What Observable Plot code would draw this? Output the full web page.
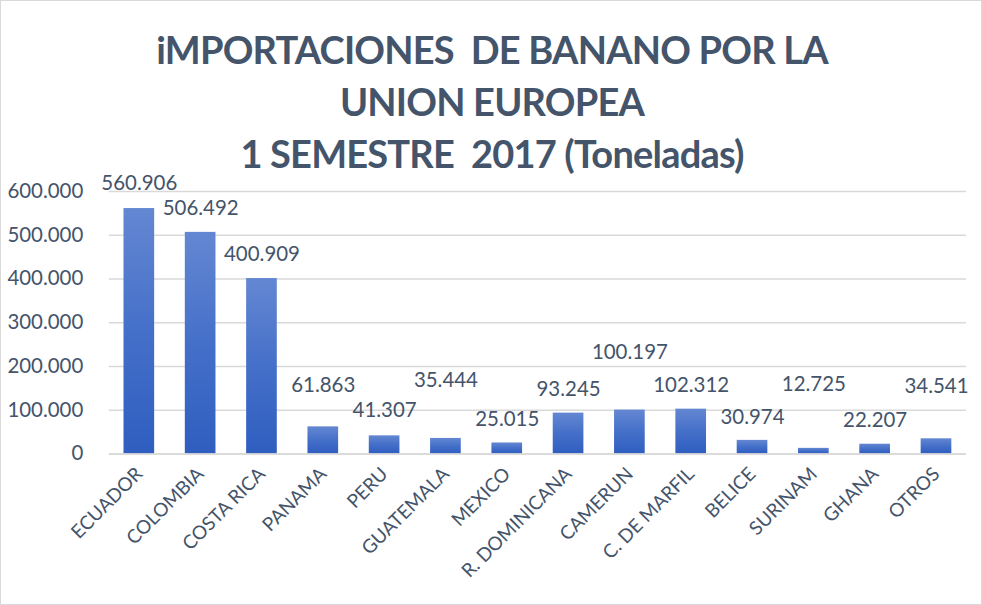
<!DOCTYPE html>
<html><head><meta charset="utf-8">
<script src="https://cdn.jsdelivr.net/npm/d3@7"></script>
<script src="https://cdn.jsdelivr.net/npm/@observablehq/plot@0.6"></script>
<style>
body{margin:0;background:#fff;}
#wrap{position:relative;width:982px;height:605px;overflow:hidden;box-sizing:border-box;border:1px solid #d9d9d9;background:#fff;}
#title{position:absolute;left:0;top:22px;width:982px;text-align:center;font-family:Lato,"Open Sans",sans-serif;font-weight:bold;font-size:38px;letter-spacing:-0.8px;line-height:52px;color:#44546a;}
#chart{position:absolute;left:0;top:168px;}
#chart svg{overflow:visible;}
</style></head>
<body>
<div id="wrap">
  <div id="title">iMPORTACIONES&nbsp; DE BANANO POR LA<br>UNION EUROPEA<br>1 SEMESTRE&nbsp; 2017 (Toneladas)</div>
  <div id="chart"></div>
</div>
<script>
const countries = ["ECUADOR","COLOMBIA","COSTA RICA","PANAMA","PERU","GUATEMALA","MEXICO","R. DOMINICANA","CAMERUN","C. DE MARFIL","BELICE","SURINAM","GHANA","OTROS"];
const tonnes = [560906,506492,400909,61863,41307,35444,25015,93245,100197,102312,30974,12725,22207,34541];
const yTicks = [0,100000,200000,300000,400000,500000,600000];
// label lift (px above bar top) – styling, as placed in the original
const labelDy = [-25,-24,-24,-41,-25,-58,-24,-24,-58,-24,-23,-64,-24,-52];

const loc = d3.formatLocale({decimal:",", thousands:".", grouping:[3], currency:["",""]});
const fmt = loc.format(",d");
const rows = countries.map((c,i)=>({country:c, value:tonnes[i], dy:labelDy[i]}));
const textColor = "#44546a";

const labelMarks = rows.map(r => Plot.text([r], {x:"country", y:"value", text:d=>fmt(d.value), dy:r.dy, lineAnchor:"middle", fill:textColor, fontSize:20.5}));

const chart = Plot.plot({
  width: 982,
  height: 437,
  marginLeft: 108,
  marginRight: 15,
  marginTop: 22,
  marginBottom: 152,
  style:{fontFamily:"Lato, 'Open Sans', sans-serif", fontSize:"20px", color:textColor, background:"transparent"},
  x:{domain:countries, paddingInner:0.5, paddingOuter:0.24, round:false, label:null},
  y:{domain:[0,600000], ticks:yTicks, tickFormat:fmt, label:null},
  marks:[
    Plot.gridY(yTicks, {stroke:"#d9d9d9", strokeOpacity:1, strokeWidth:1.5}),
    Plot.barY(rows, {x:"country", y:"value", fill:"url(#barGrad)"}),
    Plot.ruleY([0], {stroke:"#d9d9d9", strokeWidth:1.5}),
    ...labelMarks,
    Plot.axisX({tickSize:0, tickPadding:17, tickRotate:-45, fontSize:19, fill:textColor, label:null}),
    Plot.axisY({ticks:yTicks, tickFormat:fmt, tickSize:0, tickPadding:26, fontSize:20.5, fill:textColor, label:null})
  ]
});
const ns = "http://www.w3.org/2000/svg";
const defs = document.createElementNS(ns,"defs");
defs.innerHTML = '<linearGradient id="barGrad" x1="0" y1="0" x2="0" y2="1"><stop offset="0" stop-color="#6487d2"/><stop offset="0.5" stop-color="#4570c9"/><stop offset="1" stop-color="#2f5ec0"/></linearGradient>';
chart.insertBefore(defs, chart.firstChild);
document.getElementById("chart").appendChild(chart);
</script>
</body></html>
